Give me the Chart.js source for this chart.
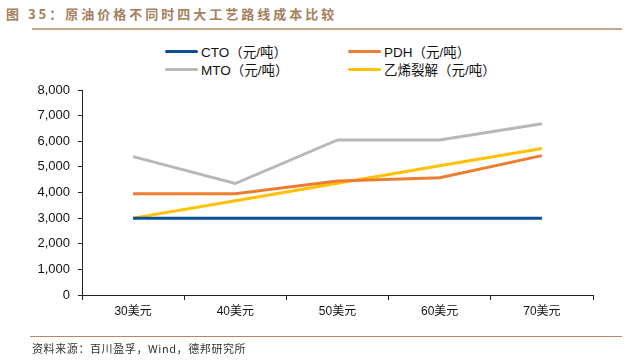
<!DOCTYPE html>
<html>
<head>
<meta charset="utf-8">
<script src="https://cdn.jsdelivr.net/npm/chart.js@4/dist/chart.umd.min.js"></script>
<style>
  body { margin: 0; background: #fff; }
  #wrap { position: relative; width: 636px; height: 361px; font-family: "Liberation Sans", "Noto Sans CJK SC", sans-serif; }
  #title { position: absolute; left: 6px; top: 4px; font-size: 13px; font-weight: bold; color: #a4805c; letter-spacing: 3px; font-family: "Noto Sans CJK SC", sans-serif; }
  #titleLine { position: absolute; left: 32px; top: 28px; width: 590px; height: 2px; background: #c4a688; }
  #footLine { position: absolute; left: 30px; top: 336px; width: 592px; height: 1px; background: #b48a66; }
  #source { position: absolute; left: 32px; top: 340px; font-size: 11px; color: #333; letter-spacing: 0.6px; font-family: "Noto Sans CJK SC", sans-serif; }
  #legend { position: absolute; left: 165px; top: 43px; display: grid; grid-template-columns: 183px 210px; row-gap: 2px; font-size: 13.5px; color: #111; }
  .item { display: flex; align-items: center; height: 16px; }
  .swatch { width: 33px; height: 3px; margin-right: 3px; border-radius: 2px; }
  canvas { position: absolute; left: 0; top: 0; }
</style>
</head>
<body>
<div id="wrap">
  <div id="title">图 35：原油价格不同时四大工艺路线成本比较</div>
  <div id="titleLine"></div>
  <div id="legend"></div>
  <canvas id="chart" width="636" height="361"></canvas>
  <div id="footLine"></div>
  <div id="source">资料来源：百川盈孚，Wind，德邦研究所</div>
</div>
<script>
// Data
const categories = ['30美元', '40美元', '50美元', '60美元', '70美元'];
const ctoCost = [3000, 3000, 3000, 3000, 3000];
const pdhCost = [3950, 3950, 4450, 4580, 5440];
const mtoCost = [5400, 4350, 6050, 6050, 6680];
const crackingCost = [3000, 3680, 4360, 5040, 5720];
const yTicks = [0, 1000, 2000, 3000, 4000, 5000, 6000, 7000, 8000];

const seriesNames = ['CTO（元/吨）', 'PDH（元/吨）', 'MTO（元/吨）', '乙烯裂解（元/吨）'];
const seriesColors = ['#0b4f98', '#ed7d31', '#b8b8b8', '#ffc000'];
const seriesData = [ctoCost, pdhCost, mtoCost, crackingCost];

// draw order: CTO on top of cracking at 30
const datasets = seriesData.map((d, i) => ({
  label: seriesNames[i],
  data: d,
  borderColor: seriesColors[i],
  backgroundColor: seriesColors[i],
  borderWidth: 3,
  pointRadius: 0,
  tension: 0,
  order: i === 0 ? 0 : i + 1
}));

const ctx = document.getElementById('chart').getContext('2d');
const chart = new Chart(ctx, {
  type: 'line',
  data: { labels: categories, datasets },
  options: {
    responsive: false,
    animation: false,
    layout: { padding: { top: 90, right: 43, bottom: 36, left: 0 } },
    plugins: {
      legend: { display: false },
      tooltip: { enabled: false }
    },
    scales: {
      x: {
        offset: true,
        grid: { offset: true, drawOnChartArea: false, drawTicks: true, tickLength: 5, color: '#222' },
        border: { color: '#222', width: 1 },
        ticks: { color: '#111', font: { size: 12, family: '"Liberation Sans", "Noto Sans CJK SC"' }, padding: 4 },
        afterFit: s => { s.height = 30; }
      },
      y: {
        min: 0,
        max: 8000,
        afterBuildTicks: s => { s.ticks = yTicks.map(v => ({ value: v })); },
        grid: { drawOnChartArea: false, drawTicks: true, tickLength: 4, color: '#222' },
        border: { color: '#222', width: 1 },
        ticks: {
          color: '#111',
          font: { size: 13, family: '"Liberation Sans", sans-serif' },
          padding: 8,
          callback: v => v.toLocaleString('en-US')
        },
        afterFit: s => { s.width = 82; }
      }
    }
  }
});

// Legend built from the chart's datasets
const legend = document.getElementById('legend');
chart.data.datasets.forEach(ds => {
  const item = document.createElement('div');
  item.className = 'item';
  const sw = document.createElement('span');
  sw.className = 'swatch';
  sw.style.background = ds.borderColor;
  const txt = document.createElement('span');
  txt.textContent = ds.label;
  item.appendChild(sw);
  item.appendChild(txt);
  legend.appendChild(item);
});
</script>
</body>
</html>
